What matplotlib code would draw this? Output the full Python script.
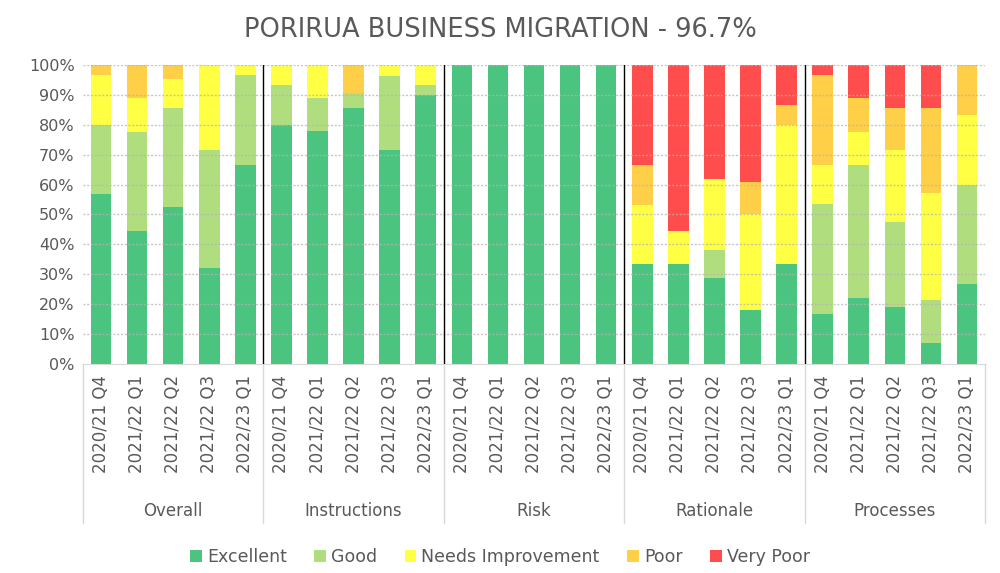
import matplotlib
matplotlib.use("Agg")
import matplotlib.pyplot as plt
import numpy as np

TITLE = "PORIRUA BUSINESS MIGRATION - 96.7%"
GROUPS = ["Overall", "Instructions", "Risk", "Rationale", "Processes"]
PERIODS = ["2020/21 Q4", "2021/22 Q1", "2021/22 Q2", "2021/22 Q3", "2022/23 Q1"]
RATINGS = ["Excellent", "Good", "Needs Improvement", "Poor", "Very Poor"]
COLORS = ["#4BC47F", "#B0DE7F", "#FFFF44", "#FFCF47", "#FF4C4C"]

# percentages, 5 periods per group, groups in GROUPS order
excellent = [56.7, 44.4, 52.4, 32.1, 66.7,
             80.0, 77.8, 85.7, 71.4, 90.0,
             100, 100, 100, 100, 100,
             33.3, 33.3, 28.6, 17.9, 33.3,
             16.7, 22.2, 19.0, 7.1, 26.7]
good = [23.3, 33.3, 33.3, 39.3, 30.0,
        13.3, 11.1, 4.8, 25.0, 3.3,
        0, 0, 0, 0, 0,
        0, 0, 9.5, 0, 0,
        36.7, 44.4, 28.6, 14.3, 33.3]
needs_improvement = [16.7, 11.1, 9.5, 28.6, 3.3,
                     6.7, 11.1, 0, 3.6, 6.7,
                     0, 0, 0, 0, 0,
                     20.0, 11.1, 23.8, 32.1, 46.7,
                     13.3, 11.1, 23.8, 35.7, 23.3]
poor = [3.3, 11.1, 4.8, 0, 0,
        0, 0, 9.5, 0, 0,
        0, 0, 0, 0, 0,
        13.3, 0, 0, 10.7, 6.7,
        30.0, 11.1, 14.3, 28.6, 16.7]
very_poor = [0, 0, 0, 0, 0,
             0, 0, 0, 0, 0,
             0, 0, 0, 0, 0,
             33.3, 55.6, 38.1, 39.3, 13.3,
             3.3, 11.1, 14.3, 14.3, 0]

series = [excellent, good, needs_improvement, poor, very_poor]
n_per = len(PERIODS)
n = len(GROUPS) * n_per
x = np.arange(n)
labels = PERIODS * len(GROUPS)
grey = "#595959"
yticks = np.arange(0, 101, 10)

fig = plt.figure(figsize=(10, 5.73), dpi=100)
ax = fig.add_axes([0.083, 0.3647, 0.902, 0.522])

bottom = np.zeros(n)
for name, vals, col in zip(RATINGS, series, COLORS):
    v = np.array(vals, dtype=float)
    ax.bar(x, v, 0.57, bottom=bottom, color=col, label=name, zorder=2)
    bottom += v

# light dotted gridlines drawn over the bars
for t in yticks[1:]:
    ax.axhline(t, color="#B4B4B4", alpha=0.75, lw=1, linestyle=(0, (1.5, 1.2)), zorder=3)

ax.set_xlim(-0.5, n - 0.5)
ax.set_ylim(0, 100)
ax.set_yticks(yticks)
ax.set_yticklabels([f"{t}%" for t in yticks], fontsize=11.5, color=grey)
ax.set_xticks(x)
ax.set_xticklabels(labels, rotation=90, fontsize=12, color=grey)
ax.tick_params(axis="both", length=0)
ax.tick_params(axis="x", pad=8)
ax.tick_params(axis="y", pad=6)
for s in ["top", "right", "left"]:
    ax.spines[s].set_visible(False)
ax.spines["bottom"].set_color("#D9D9D9")

# group separators inside the plot
for g in range(1, len(GROUPS)):
    ax.axvline(g * n_per - 0.5, color="black", lw=1, zorder=4)

# multi-level category box below the axis
trans = ax.get_xaxis_transform()
for g in range(len(GROUPS) + 1):
    xv = g * n_per - 0.5
    ax.plot([xv, xv], [0, -0.532], color="#D9D9D9", lw=1, transform=trans, clip_on=False)
for g, name in enumerate(GROUPS):
    ax.text(g * n_per + (n_per - 1) / 2, -0.49, name, transform=trans, ha="center",
            va="center", fontsize=12, color=grey)

fig.suptitle(TITLE, x=0.5, y=0.97, fontsize=18.5, color=grey)

fig.legend(loc="center", bbox_to_anchor=(0.5, 0.028), ncol=5, frameon=False,
           fontsize=12.5, handlelength=0.65, handleheight=0.65, handletextpad=0.3,
           columnspacing=1.6, labelcolor=grey)

fig.savefig("out.png", dpi=100)
